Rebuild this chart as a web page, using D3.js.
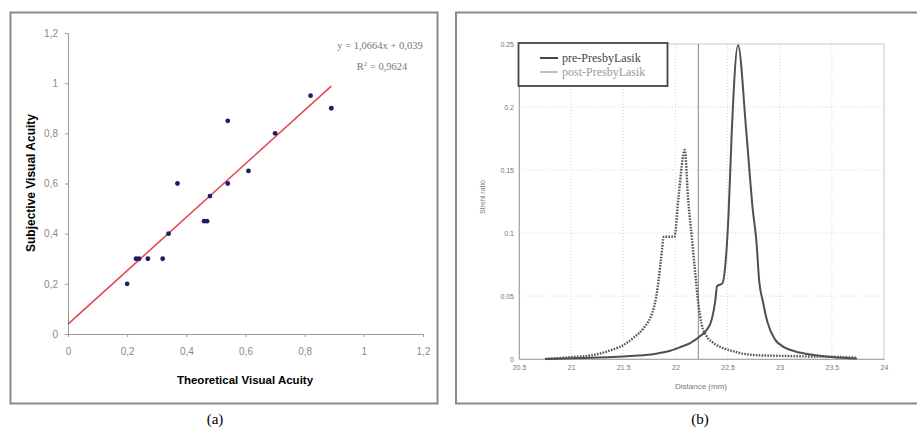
<!DOCTYPE html>
<html>
<head>
<meta charset="utf-8">
<script src="https://cdn.jsdelivr.net/npm/d3@7"></script>
<style>
  body { margin: 0; background: #fff; }
  svg { display: block; }
</style>
</head>
<body>
<svg id="fig" width="917" height="430"></svg>
<script>
// panel (a): theoretical vs subjective visual acuity
var theoX = [0.20,0.23,0.24,0.27,0.32,0.34,0.37,0.46,0.47,0.48,0.54,0.54,0.61,0.70,0.82,0.89];
var subjY = [0.20,0.30,0.30,0.30,0.30,0.40,0.60,0.45,0.45,0.55,0.60,0.85,0.65,0.80,0.95,0.90];
var acuityTicks = [0,0.2,0.4,0.6,0.8,1,1.2];
var fitSlope = 1.0664, fitIntercept = 0.039;
var eqText = "y = 1,0664x + 0,039";

// panel (b): Strehl ratio vs distance
var preX  = [20.75,21.0,21.2,21.4,21.6,21.8,21.95,22.05,22.15,22.25,22.30,22.35,22.38,22.40,22.45,22.48,22.51,22.54,22.60,22.68,22.74,22.78,22.80,22.84,22.88,22.95,23.05,23.15,23.30,23.50,23.74];
var preY  = [0,0.0005,0.001,0.0015,0.0025,0.004,0.0065,0.0095,0.013,0.019,0.023,0.032,0.045,0.058,0.060,0.076,0.116,0.18,0.249,0.18,0.12,0.09,0.065,0.045,0.030,0.016,0.009,0.006,0.0035,0.0015,0.0003];
var postX = [20.75,21.0,21.2,21.4,21.5,21.6,21.7,21.76,21.80,21.83,21.86,21.89,21.99,22.03,22.09,22.12,22.16,22.19,22.22,22.25,22.30,22.36,22.43,22.52,22.62,22.78,23.0,23.3,23.5,23.74];
var postY = [0,0.0015,0.003,0.0075,0.011,0.017,0.025,0.033,0.043,0.057,0.078,0.097,0.097,0.129,0.166,0.129,0.094,0.068,0.044,0.028,0.018,0.013,0.0095,0.007,0.0047,0.003,0.0025,0.002,0.0018,0.001];
var distTicks = [20.5,21,21.5,22,22.5,23,23.5,24];
var strehlTicks = [0,0.05,0.1,0.15,0.2,0.25];
var strehlLabels = ["0","0.05","0.1","0.15","0.2","0.25"];
var cutX = 22.22;
var legendNames = ["pre-PresbyLasik","post-PresbyLasik"];

var svg = d3.select("#fig");

// ---------- panel (a) ----------
svg.append("rect").attr("x",10.5).attr("y",12.5).attr("width",427).attr("height",391)
  .attr("fill","none").attr("stroke","#8a8a8a").attr("stroke-width",2);

var xa = d3.scaleLinear().domain([0,1.2]).range([68,423]);
var ya = d3.scaleLinear().domain([0,1.2]).range([334,33]);
var comma = d => String(d).replace(".", ",");

var gA = svg.append("g").style("font-family","Liberation Sans, Arial, sans-serif");

var axX = gA.append("g").attr("transform","translate(0,334)")
  .call(d3.axisBottom(xa).tickValues(acuityTicks).tickSize(3).tickPadding(11).tickFormat(comma));
var axY = gA.append("g").attr("transform","translate(68,0)")
  .call(d3.axisLeft(ya).tickValues(acuityTicks).tickSize(3).tickPadding(7).tickFormat(comma));
[axX, axY].forEach(function(a){
  a.select(".domain").attr("stroke","#9a9a9a");
  a.selectAll(".tick line").attr("stroke","#9a9a9a");
  a.selectAll(".tick text").attr("fill","#8a8a8a").style("font-size","10px");
});

gA.append("line")
  .attr("x1",xa(0)).attr("y1",ya(fitIntercept))
  .attr("x2",xa(d3.max(theoX))).attr("y2",ya(fitSlope*d3.max(theoX)+fitIntercept))
  .attr("stroke","#e04a50").attr("stroke-width",1.6);

gA.selectAll("circle.pt").data(theoX).enter().append("circle")
  .attr("class","pt")
  .attr("cx",d => xa(d))
  .attr("cy",(d,i) => ya(subjY[i]))
  .attr("r",2.4)
  .attr("fill","#1c1c6a");

gA.append("text").attr("x",245).attr("y",384).attr("text-anchor","middle")
  .style("font-size","11.5px").style("font-weight","bold").text("Theoretical Visual Acuity");
gA.append("text").attr("transform","translate(35,183) rotate(-90)").attr("text-anchor","middle")
  .style("font-size","12px").style("font-weight","bold").text("Subjective Visual Acuity");

var eq = svg.append("g").style("font-family","Liberation Serif, Times New Roman, serif")
  .attr("fill","#777").style("font-size","10.5px");
eq.append("text").attr("x",380).attr("y",49).attr("text-anchor","middle").text(eqText);
var r2 = eq.append("text").attr("x",382).attr("y",70).attr("text-anchor","middle");
r2.append("tspan").text("R");
r2.append("tspan").attr("dy",-4).style("font-size","7px").text("2");
r2.append("tspan").attr("dy",4).text(" = 0,9624");

svg.append("text").attr("x",215).attr("y",424).attr("text-anchor","middle")
  .style("font-family","Liberation Serif, Times New Roman, serif").style("font-size","15px")
  .text("(a)");

// ---------- panel (b) ----------
svg.append("rect").attr("x",456).attr("y",12.5).attr("width",470).attr("height",391)
  .attr("fill","none").attr("stroke","#8a8a8a").attr("stroke-width",2);

var xb = d3.scaleLinear().domain([20.5,24]).range([519,884]);
var yb = d3.scaleLinear().domain([0,0.25]).range([359,44]);

var gB = svg.append("g").style("font-family","Liberation Sans, Arial, sans-serif");

// grid
gB.selectAll("line.vg").data(distTicks.slice(1,-1)).enter().append("line")
  .attr("x1",d => xb(d)).attr("x2",d => xb(d)).attr("y1",yb(0.25)).attr("y2",yb(0))
  .attr("stroke","#d8d8d8").attr("stroke-dasharray","1,2");
gB.selectAll("line.hg").data(strehlTicks.slice(1,-1)).enter().append("line")
  .attr("x1",xb(20.5)).attr("x2",xb(24)).attr("y1",d => yb(d)).attr("y2",d => yb(d))
  .attr("stroke","#d8d8d8").attr("stroke-dasharray","1,2");

gB.append("rect").attr("x",xb(20.5)).attr("y",yb(0.25))
  .attr("width",xb(24)-xb(20.5)).attr("height",yb(0)-yb(0.25))
  .attr("fill","none").attr("stroke","#c8c8c8");

var bx = gB.append("g").attr("transform","translate(0,"+yb(0)+")")
  .call(d3.axisBottom(xb).tickValues(distTicks).tickSize(0).tickPadding(6).tickFormat(d => String(d)));
var by = gB.append("g").attr("transform","translate("+xb(20.5)+",0)")
  .call(d3.axisLeft(yb).tickValues(strehlTicks).tickSize(0).tickPadding(5).tickFormat((d,i) => strehlLabels[i]));
[bx, by].forEach(function(a){
  a.select(".domain").attr("stroke","#aaa");
  a.selectAll(".tick text").attr("fill","#777").style("font-size","7px");
});

gB.append("line").attr("x1",xb(cutX)).attr("x2",xb(cutX)).attr("y1",yb(0.25)).attr("y2",yb(0))
  .attr("stroke","#999").attr("stroke-width",1.2);

var line = d3.line().x(d => xb(d[0])).y(d => yb(d[1])).curve(d3.curveMonotoneX);
var postPts = postX.map((x,i) => [x, postY[i]]);
var prePts = preX.map((x,i) => [x, preY[i]]);

gB.append("path").datum(postPts).attr("d",line)
  .attr("fill","none").attr("stroke","#555").attr("stroke-width",2.4)
  .attr("stroke-dasharray","1.6,1.3");
gB.append("path").datum(prePts).attr("d",line)
  .attr("fill","none").attr("stroke","#505050").attr("stroke-width",2);

gB.append("text").attr("x",701).attr("y",389).attr("text-anchor","middle")
  .attr("fill","#777").style("font-size","8px").text("Distance (mm)");
gB.append("text").attr("transform","translate(485,197) rotate(-90)").attr("text-anchor","middle")
  .attr("fill","#777").style("font-size","7px").text("Strehl ratio");

// legend
var lg = svg.append("g").style("font-family","Liberation Serif, Times New Roman, serif");
lg.append("rect").attr("x",518.5).attr("y",43).attr("width",149).attr("height",43)
  .attr("fill","#fff").attr("stroke","#444").attr("stroke-width",1.8);
var lgColor = ["#444","#999"], lgWidth = [2,1.2];
legendNames.forEach(function(n,i){
  var yy = 58 + i*14;
  lg.append("line").attr("x1",540).attr("x2",558).attr("y1",yy).attr("y2",yy)
    .attr("stroke",lgColor[i]).attr("stroke-width",lgWidth[i]);
  lg.append("text").attr("x",562).attr("y",yy+4).attr("fill",lgColor[i])
    .style("font-size","12px").text(n);
});

svg.append("text").attr("x",700).attr("y",424).attr("text-anchor","middle")
  .style("font-family","Liberation Serif, Times New Roman, serif").style("font-size","15px")
  .text("(b)");
</script>
</body>
</html>
